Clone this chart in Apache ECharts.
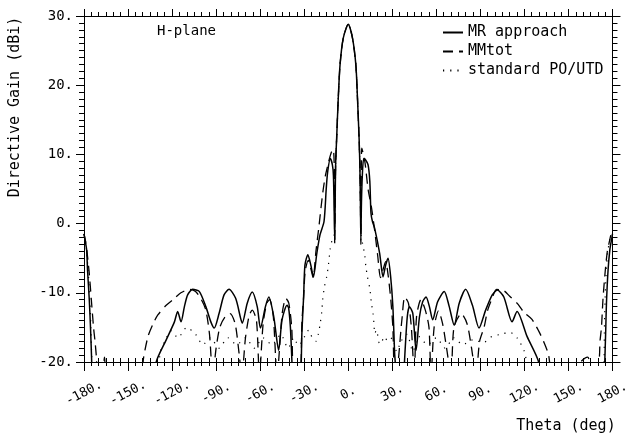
<!DOCTYPE html>
<html><head><meta charset="utf-8">
<script src="https://cdn.jsdelivr.net/npm/echarts@6/dist/echarts.min.js"></script>
<style>html,body{margin:0;padding:0;background:#fff}#c{width:632px;height:437px}</style>
</head><body><div id="c"></div>
<script>
// ---- tick labels ----
const xTickValues = [-180,-150,-120,-90,-60,-30,0,30,60,90,120,150,180];
const xTickLabels = ['-180.','-150.','-120.','-90.','-60.','-30.','0.','30.','60.','90.','120.','150.','180.'];
const yTickValues = [-20,-10,0,10,20,30];
const yTickLabels = ['-20.','-10.','0.','10.','20.','30.'];

// ---- MR approach (solid) ----
const thetaMR = [-180,-179.3,-178.2,-177.6,-176.4,-175.5,-174.8,-174.3,
 -131.6,-130.8,-124,-118.4,-116.2,-113.9,-111.6,-109.4,-106,-101.5,-97,-93.6,-91.3,-88,-84.6,-81.2,-76.7,-73.3,-72.2,-68.8,-65.4,-62,-59.8,-56.4,-54.1,-50.7,-47.4,-45.1,-41.7,-40.6,-39.4,-38.4,-37.8,
 -32.6,-32,-31.6,-30.4,-29.5,-27.5,-25.5,-23.7,-21.4,-19.2,-16.5,-15,-14,-12.2,-10.8,-10.1,-9.6,-9.2,-8.9,-8.6,-7.9,-6.8,-5.6,-3.4,0,2.9,5.2,6.3,7.4,7.9,8.3,8.6,9,9.6,10.5,11.5,13.5,14.7,15.5,16.5,18,21.4,23.7,25.5,27.1,28.9,30.4,31.6,32,32.5,
 37.7,38.3,40.2,41.7,44,46.2,48.5,50.7,53,55.3,57.5,60.9,65.4,68.8,72.2,75.6,80,84.6,89.1,93.6,98.1,101.5,106,111.6,115,121.8,129.7,130.5,
 174.3,174.8,175.4,175.9,177,178.2,179.3,180];
const gainMR = [-1.5,-2.4,-3.8,-6.7,-11,-15.4,-19.7,-23,
 -23,-20,-16.8,-14.2,-12.7,-14.2,-12,-10.3,-9.5,-9.8,-12,-14.2,-15.1,-13,-10.3,-9.5,-10.8,-13.7,-14.4,-11.5,-9.9,-12,-15.1,-12,-10.6,-13.5,-18.3,-13.9,-11.8,-12.2,-15,-19.7,-23,
 -23,-20,-15.9,-10.6,-6,-4.5,-6,-7.7,-4.3,-1.6,0.3,5,7.5,9.4,8.5,7,2,-2.4,3,8.5,12.3,18.1,22.9,26.8,28.8,26.8,22.9,18.1,12.3,8.5,3,-2.4,3,7,9.4,9.3,8.5,6.1,1.5,0.3,-0.7,-4.3,-7.7,-6,-5,-7.7,-12,-18.7,-20,-23,
 -23,-20,-13.5,-12,-13,-18.3,-13.5,-11.3,-10.6,-12,-13.9,-11.3,-9.8,-12,-14.7,-11.5,-9.5,-11.8,-15.1,-12.5,-10.3,-9.6,-10.6,-14.2,-12.7,-16.3,-20,-23,
 -23,-19.7,-15.4,-11.5,-6.7,-3.8,-2.4,-1.5];

// ---- MMtot (dashed) ----
const thetaMM = [-180,-179,-178,-176.5,-175,-173.5,-172.5,-171.5,-171,-168,-166,-164,
 -141.5,-139.5,-136.4,-133,-129.7,-124,-119.5,-114,-108,-104,-100,-97,-94.5,-92.3,-90,-87.5,-84,-80.5,-77,-74.5,-72.5,-70,-67.5,-65.4,-62.5,-60.5,-58,-55.5,-53.5,-51,-48.5,-45,-42.5,-40.5,-38.5,-37,
 -33,-31.5,-30.4,-29.3,-27.2,-25.5,-23.9,-22,-20,-18.5,-17,-15.5,-13.5,-11.5,-10.2,-9.5,-9.2,-8.9,-8.6,-7.9,-6.8,-5.6,-3.4,0,2.9,5.2,6.3,7.4,7.9,8.3,8.6,8.9,9.2,10,11.5,13.5,15.8,18,20,22,23.9,25.5,27.2,29,30.4,31.5,32.5,
 36.5,38.5,41,43,45,46.5,49.5,52.5,55,56.4,58.5,61.5,64.3,67,70,72,77,81,84,87,89.5,92.5,95,98,101,106,110,115,119.6,125,129.7,133,136.5,139,141,
 163,165.8,168,171,171.5,172.5,173.5,175,176.5,178,179,180];
const gainMM = [-1.5,-2.5,-4,-7,-11,-15,-17,-19.5,-23,-23,-19.3,-23,
 -23,-19.5,-16.3,-14.5,-13.2,-11.8,-11,-10,-9.5,-9.8,-11,-12.5,-16,-22,-18,-15,-13.5,-13,-14.5,-18.5,-22,-16.5,-13.3,-12.5,-14,-22,-14.5,-11.5,-11,-13.5,-22,-13,-10.8,-11.5,-15,-22,
 -22,-14,-10.6,-6.8,-5.3,-6.5,-7.8,-4,-0.5,2.4,5,7,8.8,10.3,10.7,8,-3,3,8.5,12.3,18.1,22.9,26.8,28.8,26.8,22.9,18.1,12.3,8.5,3,-3,8,10.9,10.3,8.7,5,2.4,-1,-4.5,-7.8,-6.5,-5.5,-7.5,-11,-15,-22,
 -22,-14,-10.6,-11.5,-15,-22,-13.5,-11,-12.5,-15,-22,-15,-12.6,-14.5,-18,-22,-15,-13,-14.5,-18,-22,-17,-15,-12.5,-10.8,-9.5,-9.7,-10.5,-11.5,-12.8,-13.8,-15.5,-17,-19,-23,
 -23,-19.3,-23,-23,-19.5,-17,-15,-11,-7,-4,-2.5,-1.5];

// ---- standard PO/UTD (dotted) ----
const thetaPO = [-180,-179,-178,-176.5,-175.3,-174.5,-174,
 -132,-128,-125,-120.5,-116,-110,-104,-99,-94,-88,-82,-76,-70,-64,-58,-52,-46,-41,-37,-34,-31.6,-29,-27,-24.5,-22,-20.3,-19,-18,-17.4,-16.2,-14.7,-13.5,-12.2,-11,-9.6,-8.9,-8.6,-7.9,-6.8,-5.6,-3.4,0,2.9,5.2,6.3,7.4,7.9,8.3,8.7,9.8,11.3,12,13.1,14.7,15.8,16.9,17.6,18,19.2,21.4,23,24.6,27,30,33,36,40,44,48,54,60,66,72,78,85,92,98,104,110,115,120,125,129,
 174,174.5,175.3,176.5,178,179,180];
const gainPO = [-1.5,-2.5,-4.5,-9,-15,-21,-23,
 -23,-18.5,-17,-15.5,-16.5,-15,-16,-17.5,-16.5,-18,-16.5,-17.5,-16.5,-18,-16.5,-17.5,-16,-18,-16.5,-17.6,-17.1,-16,-15.4,-16.5,-17,-15.9,-14.3,-12.7,-11,-9.1,-7.7,-6,-3.5,-2.4,-1.6,3,8.5,12.3,18.1,22.9,26.8,28.8,26.8,22.9,18.1,12.3,8.5,3,-1.6,-2.9,-4.6,-6.2,-7.7,-9.4,-11.5,-13,-14.7,-15.9,-15.4,-17.4,-17,-16.3,-17,-16.5,-18.5,-17,-16,-18.5,-16.3,-17.5,-16.5,-18,-16.5,-17.5,-16.8,-17.2,-16.3,-16,-15.7,-16.5,-18.5,-23,
 -23,-21,-15,-9,-4.5,-2.5,-1.5];

const zip = (a, b) => a.map((t, i) => [t, b[i]]);
const FONT = '"DejaVu Sans Mono", "Liberation Mono", monospace';

const chart = echarts.init(document.getElementById('c'), null, {renderer: 'canvas'});
const axisCommon = {
  type: 'value', min: -180, max: 180, interval: 30,
  splitLine: {show: false},
  axisLine: {show: true, onZero: false, lineStyle: {color: '#000', width: 1}},
};
const yCommon = {
  type: 'value', min: -20, max: 30, interval: 10,
  splitLine: {show: false},
  axisLine: {show: true, onZero: false, lineStyle: {color: '#000', width: 1}},
};
chart.setOption({
  animation: false,
  backgroundColor: '#fff',
  grid: {left: 84, right: 16, top: 16, bottom: 75, containLabel: false},
  xAxis: [
    Object.assign({}, axisCommon, {
      position: 'bottom',
      axisTick: {show: true, inside: false, length: 9, lineStyle: {color: '#000'}},
      minorTick: {show: true, splitNumber: 6, length: 4, lineStyle: {color: '#000'}},
      axisLabel: {
        show: true, rotate: 28, margin: 31, align: 'center', verticalAlign: 'middle',
        color: '#000', fontFamily: FONT, fontSize: 13,
        formatter: v => xTickLabels[xTickValues.indexOf(v)]
      }
    }),
    Object.assign({}, axisCommon, {
      position: 'bottom',
      axisLine: {show: false, onZero: false},
      axisTick: {show: true, inside: true, length: 4, lineStyle: {color: '#000'}},
      minorTick: {show: true, splitNumber: 6, length: 4, lineStyle: {color: '#000'}},
      axisLabel: {show: false}
    }),
    Object.assign({}, axisCommon, {
      position: 'top',
      axisTick: {show: true, inside: false, length: 7, lineStyle: {color: '#000'}},
      minorTick: {show: true, splitNumber: 6, length: 4, lineStyle: {color: '#000'}},
      axisLabel: {show: false}
    })
  ],
  yAxis: [
    Object.assign({}, yCommon, {
      position: 'left',
      axisTick: {show: true, inside: false, length: 8, lineStyle: {color: '#000'}},
      minorTick: {show: true, splitNumber: 10, length: 5, lineStyle: {color: '#000'}},
      axisLabel: {
        show: true, margin: 11, color: '#000', fontFamily: FONT, fontSize: 14,
        formatter: v => yTickLabels[yTickValues.indexOf(v)]
      }
    }),
    Object.assign({}, yCommon, {
      position: 'right',
      axisTick: {show: true, inside: false, length: 8, lineStyle: {color: '#000'}},
      minorTick: {show: true, splitNumber: 10, length: 5, lineStyle: {color: '#000'}},
      axisLabel: {show: false}
    })
  ],
  legend: {
    orient: 'vertical', left: 437, top: 20,
    itemWidth: 20, itemHeight: 12, itemGap: 4,
    itemStyle: {opacity: 0, borderWidth: 0},
    textStyle: {color: '#000', fontFamily: FONT, fontSize: 15, lineHeight: 14},
    data: ['MR approach', 'MMtot', 'standard PO/UTD']
  },
  graphic: [
    {type: 'text', left: 157, top: 24, style: {text: 'H-plane', font: '14px ' + FONT, fill: '#000'}},
    {type: 'text', x: 15, y: 107, rotation: Math.PI / 2,
     style: {text: 'Directive Gain (dBi)', font: '15px ' + FONT, fill: '#000', align: 'center', verticalAlign: 'middle'}},
    {type: 'text', x: 566, y: 426,
     style: {text: 'Theta (deg)', font: '15px ' + FONT, fill: '#000', align: 'center', verticalAlign: 'middle'}}
  ],
  series: [
    {name: 'MR approach', type: 'line', data: zip(thetaMR, gainMR), xAxisIndex: 0, yAxisIndex: 0,
     showSymbol: false, symbol: 'none', smooth: 0.25, clip: true, z: 5,
     lineStyle: {color: '#000', width: 1.5, type: 'solid'}, itemStyle: {color: '#000'}},
    {name: 'MMtot', type: 'line', data: zip(thetaMM, gainMM), xAxisIndex: 0, yAxisIndex: 0,
     showSymbol: false, symbol: 'none', smooth: 0.25, clip: true, z: 4,
     lineStyle: {color: '#000', width: 1.3, type: [10, 6]}, itemStyle: {color: '#000'}},
    {name: 'standard PO/UTD', type: 'line', data: zip(thetaPO, gainPO), xAxisIndex: 0, yAxisIndex: 0,
     showSymbol: false, symbol: 'none', smooth: 0.25, clip: true, z: 3,
     lineStyle: {color: '#000', width: 1.2, type: [1.2, 6]}, itemStyle: {color: '#000'}}
  ]
});
</script>
</body></html>
